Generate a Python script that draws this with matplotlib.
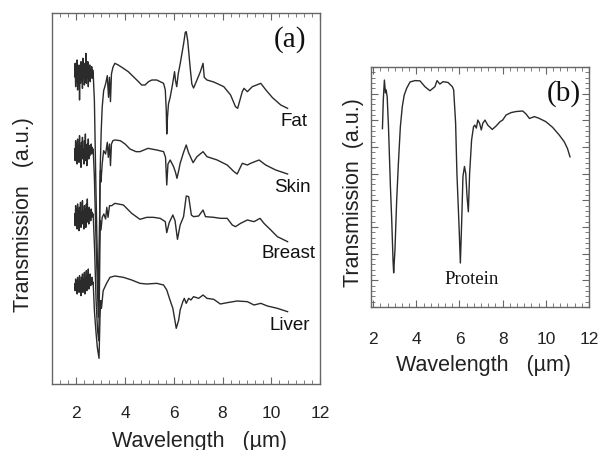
import matplotlib
matplotlib.use('Agg')
import matplotlib.pyplot as plt
import numpy as np
from matplotlib.ticker import MultipleLocator, NullFormatter

plt.rcParams['font.family'] = ['Liberation Sans', 'DejaVu Sans']

# --- data (wavelength in um, transmission in arb. units) ---
noise_x = np.round(np.arange(1.93, 2.70, 0.02), 2)

fat_noise = [9.22, 9.62, 8.92, 9.47, 9.07, 9.72, 8.82, 9.37, 9.17, 9.57,
             8.52, 9.42, 9.02, 9.67, 9.12, 9.52, 8.87, 9.77, 9.22, 9.42,
             8.97, 9.62, 9.07, 9.92, 9.02, 9.52, 9.17, 9.67, 8.92, 9.47,
             9.22, 9.57, 9.07, 9.42, 9.27, 9.52, 9.17, 9.42, 9.32]
skin_noise = [7.05, 6.7, 7.3, 6.85, 7.2, 6.6, 7.35, 6.9, 7.1, 6.65,
              7.45, 6.8, 7.15, 6.5, 7.25, 6.95, 7.4, 6.75, 7.05, 6.6,
              7.3, 6.85, 7.5, 6.7, 7.1, 6.55, 7.2, 6.9, 7.35, 6.75,
              7.15, 6.85, 7.05, 6.95, 7.2, 6.9, 7.1, 6.95, 7.05]
breast_noise = [5.1, 4.75, 5.35, 4.9, 5.25, 4.65, 5.4, 4.95, 5.2, 4.6,
                5.3, 4.85, 5.45, 4.7, 5.15, 4.9, 5.5, 4.8, 5.2, 4.65,
                5.35, 4.95, 5.25, 4.7, 5.4, 4.85, 5.55, 4.9, 5.2, 4.8,
                5.3, 5.0, 5.15, 4.9, 5.25, 5.0, 5.15, 5.05, 5.1]
liver_noise = [3.0, 2.8, 3.15, 2.85, 3.1, 2.7, 3.2, 2.9, 3.05, 2.75,
               3.25, 2.8, 3.1, 2.65, 3.2, 2.9, 3.3, 2.75, 3.15, 2.85,
               3.35, 2.7, 3.2, 2.9, 3.4, 2.8, 3.25, 2.95, 3.45, 2.85,
               3.2, 3.0, 3.3, 2.95, 3.15, 3.05, 3.2, 3.0, 3.05]

fat = [(2.74, 8.5), (2.80, 6.0), (2.86, 3.8), (2.91, 2.6), (2.95, 4.5), (2.98, 6.5),
       (3.02, 7.6), (3.06, 8.3), (3.12, 8.8), (3.20, 9.0), (3.27, 9.25), (3.32, 8.6),
       (3.36, 9.2), (3.40, 8.47), (3.44, 9.3), (3.50, 9.5), (3.58, 9.62), (3.72, 9.57),
       (3.93, 9.47), (4.13, 9.37), (4.34, 9.22), (4.55, 9.07), (4.68, 8.97), (4.82, 8.97),
       (4.96, 9.07), (5.10, 9.12), (5.30, 9.12), (5.44, 9.07), (5.58, 9.02), (5.65, 8.82),
       (5.69, 8.2), (5.71, 7.5), (5.74, 8.0), (5.78, 8.4), (5.85, 8.6), (5.95, 9.0),
       (6.03, 9.37), (6.07, 9.1), (6.12, 8.92), (6.18, 9.3), (6.26, 9.6), (6.33, 9.9),
       (6.40, 10.2), (6.47, 10.55), (6.51, 10.57), (6.57, 10.3), (6.62, 9.9), (6.68, 9.42),
       (6.74, 9.0), (6.81, 8.88), (6.88, 9.0), (6.95, 9.12), (7.09, 9.37), (7.20, 9.62),
       (7.25, 9.2), (7.36, 9.12), (7.64, 9.06), (8.05, 8.92), (8.33, 8.67), (8.53, 8.32),
       (8.62, 8.27), (8.81, 8.77), (8.88, 8.87), (9.02, 8.77), (9.22, 8.92), (9.57, 9.02),
       (9.78, 8.82), (10.05, 8.59), (10.39, 8.37), (10.67, 8.27)]

skin = [(2.74, 6.2), (2.80, 4.5), (2.86, 3.0), (2.90, 2.0), (2.94, 4.0), (2.97, 6.0),
        (2.99, 6.4), (3.01, 6.06), (3.06, 6.6), (3.12, 7.0), (3.20, 6.9), (3.27, 7.25),
        (3.31, 6.8), (3.36, 7.2), (3.40, 6.55), (3.44, 7.2), (3.50, 7.3), (3.58, 7.32),
        (3.80, 7.3), (4.00, 7.2), (4.20, 7.05), (4.45, 6.97), (4.61, 6.97), (4.94, 7.07),
        (5.30, 7.02), (5.58, 6.97), (5.66, 6.8), (5.71, 5.97), (5.76, 6.6), (5.85, 6.72),
        (5.99, 6.52), (6.07, 6.35), (6.13, 6.17), (6.20, 6.4), (6.26, 6.62), (6.40, 6.95),
        (6.51, 7.17), (6.60, 6.95), (6.68, 6.82), (6.79, 6.64), (6.95, 6.82), (7.20, 6.97),
        (7.36, 6.82), (7.78, 6.72), (8.19, 6.57), (8.47, 6.37), (8.60, 6.30), (8.81, 6.62),
        (9.02, 6.57), (9.15, 6.62), (9.50, 6.72), (9.77, 6.57), (10.18, 6.42), (10.67, 6.30)]

breast = [(2.75, 4.0), (2.81, 2.5), (2.87, 1.6), (2.92, 1.3), (2.95, 3.0), (2.98, 4.9),
          (3.01, 4.62), (3.06, 5.0), (3.13, 5.1), (3.20, 4.95), (3.25, 5.3), (3.30, 5.0),
          (3.36, 5.35), (3.45, 5.35), (3.58, 5.42), (3.93, 5.37), (4.27, 5.12), (4.61, 4.94),
          (4.89, 5.0), (5.16, 5.0), (5.44, 4.97), (5.65, 4.87), (5.71, 4.54), (5.81, 4.84),
          (5.96, 5.07), (6.05, 4.9), (6.15, 4.34), (6.26, 4.77), (6.40, 5.02), (6.51, 5.64),
          (6.61, 5.62), (6.72, 5.07), (6.81, 5.02), (7.02, 5.04), (7.20, 5.22), (7.30, 5.02),
          (7.64, 5.0), (7.91, 4.97), (8.19, 4.97), (8.40, 4.77), (8.53, 4.72), (8.74, 4.82),
          (9.02, 4.92), (9.29, 4.87), (9.54, 4.97), (9.70, 4.82), (9.98, 4.62), (10.25, 4.42),
          (10.67, 4.27)]

liver = [(2.74, 2.2), (2.80, 1.6), (2.86, 1.1), (2.93, 0.77), (2.97, 2.0), (3.00, 2.5),
         (3.03, 2.27), (3.10, 2.8), (3.24, 3.02), (3.38, 3.2), (3.58, 3.24), (3.93, 3.2),
         (4.27, 3.12), (4.61, 3.02), (4.89, 3.0), (5.30, 3.02), (5.58, 2.97), (5.71, 2.82),
         (5.82, 2.57), (5.96, 2.27), (6.10, 1.67), (6.20, 1.92), (6.26, 2.22), (6.37, 2.47),
         (6.43, 2.57), (6.51, 2.42), (6.61, 2.57), (6.70, 2.52), (6.81, 2.62), (7.02, 2.57),
         (7.20, 2.67), (7.36, 2.57), (7.64, 2.54), (7.91, 2.40), (8.19, 2.44), (8.60, 2.49),
         (9.02, 2.47), (9.29, 2.37), (9.57, 2.42), (9.84, 2.34), (10.25, 2.27), (10.67, 2.17)]

protein = [(2.43, 6.69), (2.47, 7.77), (2.52, 8.51), (2.57, 8.03), (2.60, 8.14), (2.65, 7.88),
           (2.71, 6.76), (2.74, 6.01), (2.80, 4.51), (2.86, 3.27), (2.92, 1.76), (2.95, 1.28),
           (3.01, 2.14), (3.09, 4.01), (3.17, 5.40), (3.26, 6.76), (3.35, 7.52), (3.44, 7.95),
           (3.55, 8.20), (3.71, 8.44), (3.94, 8.49), (4.17, 8.48), (4.40, 8.26), (4.63, 8.11),
           (4.86, 8.26), (4.96, 8.49), (5.09, 8.36), (5.24, 8.45), (5.47, 8.42), (5.67, 8.26),
           (5.73, 8.14), (5.82, 6.90), (5.88, 5.02), (5.98, 3.02), (6.04, 1.65), (6.10, 3.15),
           (6.16, 4.89), (6.23, 5.27), (6.29, 5.01), (6.35, 4.14), (6.41, 3.57), (6.47, 5.02),
           (6.56, 6.26), (6.65, 6.76), (6.71, 6.82), (6.78, 6.71), (6.85, 7.01), (6.93, 6.89),
           (7.01, 6.64), (7.08, 6.89), (7.18, 7.01), (7.31, 6.82), (7.52, 6.66), (7.70, 6.79),
           (7.88, 6.95), (8.00, 7.01), (8.16, 7.20), (8.39, 7.29), (8.62, 7.33), (8.93, 7.35),
           (9.08, 7.24), (9.24, 7.07), (9.47, 7.14), (9.70, 7.07), (10.00, 6.95), (10.31, 6.74),
           (10.62, 6.45), (10.85, 6.20), (11.00, 5.95), (11.12, 5.63)]

tissues = ['Fat', 'Skin', 'Breast', 'Liver']
# label anchor (right edge x, centre y) in pixels of the 603x450 picture
label_px = [(308, 122), (311, 187), (316, 254), (310, 325)]

W, H = 603, 450
line_col = '#2b2b2b'
spine_col = '#666666'

fig = plt.figure(figsize=(6.03, 4.5), dpi=100)

def px_box(x0, y0, x1, y1):
    return [x0 / W, 1 - y1 / H, (x1 - x0) / W, (y1 - y0) / H]

ax1 = fig.add_axes(px_box(52, 13, 320, 384))
ax2 = fig.add_axes(px_box(371, 67, 589, 307))

for noise, curve in zip([fat_noise, skin_noise, breast_noise, liver_noise],
                        [fat, skin, breast, liver]):
    cx = list(noise_x) + [p[0] for p in curve]
    cy = list(noise) + [p[1] for p in curve]
    ax1.plot(cx, cy, color=line_col, lw=1.0)

ax2.plot([p[0] for p in protein], [p[1] for p in protein], color=line_col, lw=1.0)

ax1.set_xlim(1, 12)
ax1.set_ylim(0, 11.13)
ax2.set_xlim(1.9, 12.0)
ax2.set_ylim(0, 9)

for ax in (ax1, ax2):
    for s in ax.spines.values():
        s.set_color(spine_col)
        s.set_linewidth(1.0)
    ax.xaxis.set_major_locator(MultipleLocator(2))
    ax.xaxis.set_minor_locator(MultipleLocator(1 / 3))
    ax.tick_params(axis='x', which='both', direction='in', top=True, bottom=True,
                   colors=spine_col, labelcolor='#222222', labelsize=12.5)
    ax.tick_params(axis='x', which='major', length=5, width=0.8)
    ax.tick_params(axis='x', which='minor', length=3, width=0.6)

ax1.tick_params(axis='x', pad=16)
ax2.tick_params(axis='x', pad=18)
ax1.tick_params(axis='y', which='both', left=False, right=False, labelleft=False)

ax2.yaxis.set_major_locator(MultipleLocator(1))
ax2.yaxis.set_minor_locator(MultipleLocator(0.2))
ax2.yaxis.set_major_formatter(NullFormatter())
ax2.tick_params(axis='y', which='both', direction='in', left=True, right=True, colors=spine_col)
ax2.tick_params(axis='y', which='major', length=5, width=0.8)
ax2.tick_params(axis='y', which='minor', length=3, width=0.6)

for name, (px, py) in zip(tissues, label_px):
    fig.text(px / W, 1 - py / H, name, ha='right', va='center', fontsize=13.5, color='#111111')

fig.text(290 / W, 1 - 40 / H, '(a)', ha='center', va='center', fontsize=21,
         family='Liberation Serif', color='#111111')
fig.text(564 / W, 1 - 94 / H, '(b)', ha='center', va='center', fontsize=21,
         family='Liberation Serif', color='#111111')
fig.text(472 / W, 1 - 280 / H, 'Protein', ha='center', va='center', fontsize=13.5,
         family='Liberation Serif', color='#111111')

fig.text(24 / W, 1 - 215 / H, 'Transmission   (a.u.)', rotation=90, ha='center', va='center',
         fontsize=15.5, color='#222222')
fig.text(353 / W, 1 - 193 / H, 'Transmission  (a.u.)', rotation=90, ha='center', va='center',
         fontsize=15.5, color='#222222')
fig.text(199 / W, 1 - 441 / H, 'Wavelength   (µm)', ha='center', va='center',
         fontsize=15.5, color='#222222')
fig.text(483 / W, 1 - 366 / H, 'Wavelength   (µm)', ha='center', va='center',
         fontsize=15.5, color='#222222')

fig.savefig('out.png', dpi=100)
